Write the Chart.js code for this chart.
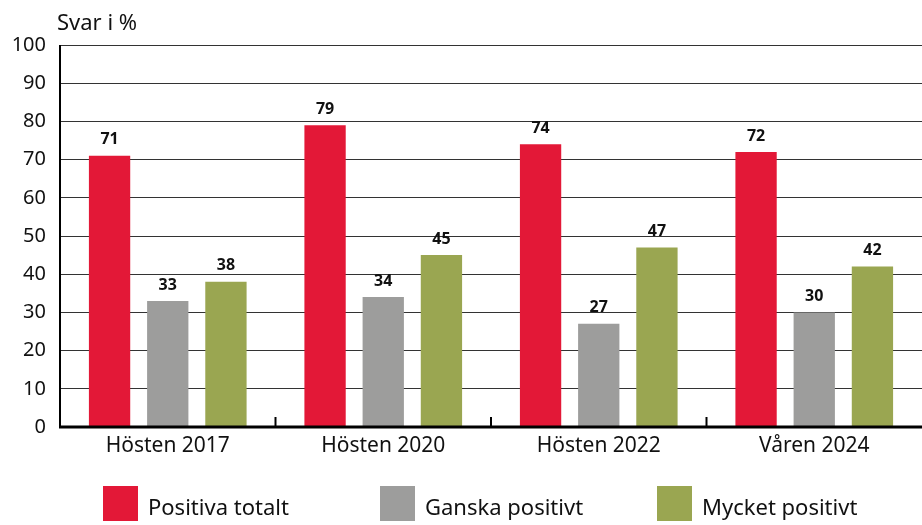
<!DOCTYPE html>
<html>
<head>
<meta charset="utf-8">
<script src="https://cdn.jsdelivr.net/npm/chart.js@4/dist/chart.umd.min.js"></script>
<style>
  html, body { margin: 0; padding: 0; background: #fff; }
  #wrap { width: 922px; height: 525px; position: relative; }
</style>
</head>
<body>
<div id="wrap"><canvas id="chart"></canvas></div>
<script>
// Data
const categories = ['Hösten 2017', 'Hösten 2020', 'Hösten 2022', 'Våren 2024'];
const positivaTotalt = [71, 79, 74, 72];
const ganskaPositivt = [33, 34, 27, 30];
const mycketPositivt = [38, 45, 47, 42];
const seriesNames = ['Positiva totalt', 'Ganska positivt', 'Mycket positivt'];
const yTicks = [0, 10, 20, 30, 40, 50, 60, 70, 80, 90, 100];

const FONT = "'Noto Sans', sans-serif";
const COLORS = ['#E31837', '#9D9D9C', '#9AA651'];

// Labels above bars, unit label, inner ticks and the legend
const extrasPlugin = {
    id: 'extras',
    afterDatasetsDraw(chart) {
        const ctx = chart.ctx;
        ctx.save();
        ctx.fillStyle = '#111';
        ctx.font = 'bold 16px ' + FONT;
        ctx.textAlign = 'center';
        ctx.textBaseline = 'bottom';
        chart.data.datasets.forEach((ds, i) => {
            chart.getDatasetMeta(i).data.forEach((bar, j) => {
                ctx.fillText(ds.data[j], bar.x, bar.y - 8);
            });
        });

        // small upward ticks between the groups
        const x = chart.scales.x;
        const bottom = chart.chartArea.bottom;
        ctx.strokeStyle = '#000';
        ctx.lineWidth = 2;
        for (let k = 1; k < categories.length; k++) {
            const px = (x.getPixelForValue(k - 1) + x.getPixelForValue(k)) / 2;
            ctx.beginPath();
            ctx.moveTo(px, bottom);
            ctx.lineTo(px, bottom - 10);
            ctx.stroke();
        }

        // y axis and x axis lines
        ctx.beginPath();
        ctx.lineWidth = 2;
        ctx.moveTo(chart.chartArea.left, chart.chartArea.top);
        ctx.lineTo(chart.chartArea.left, bottom);
        ctx.stroke();
        ctx.beginPath();
        ctx.lineWidth = 3;
        ctx.moveTo(chart.chartArea.left - 1, bottom);
        ctx.lineTo(chart.chartArea.right, bottom);
        ctx.stroke();

        // unit label
        ctx.fillStyle = '#111';
        ctx.font = '22px ' + FONT;
        ctx.textAlign = 'left';
        ctx.textBaseline = 'middle';
        ctx.fillText('Svar i %', 57, 24);

        // legend
        const legendX = [103, 380, 657];
        ctx.font = '22px ' + FONT;
        chart.data.datasets.forEach((ds, i) => {
            ctx.fillStyle = ds.backgroundColor;
            ctx.fillRect(legendX[i], 486, 35, 35);
            ctx.fillStyle = '#111';
            ctx.fillText(ds.label, legendX[i] + 45, 509);
        });
        ctx.restore();
    }
};

new Chart(document.getElementById('chart'), {
    type: 'bar',
    data: {
        labels: categories,
        datasets: [
            { label: seriesNames[0], data: positivaTotalt, backgroundColor: COLORS[0] },
            { label: seriesNames[1], data: ganskaPositivt, backgroundColor: COLORS[1] },
            { label: seriesNames[2], data: mycketPositivt, backgroundColor: COLORS[2] }
        ]
    },
    options: {
        responsive: true,
        maintainAspectRatio: false,
        animation: false,
        layout: { padding: { top: 45, right: 0, left: 0, bottom: 0 } },
        datasets: {
            bar: { barPercentage: 0.71, categoryPercentage: 0.81 }
        },
        plugins: {
            legend: { display: false },
            tooltip: { enabled: false }
        },
        scales: {
            x: {
                grid: { display: false, drawTicks: false },
                border: { display: false },
                ticks: {
                    color: '#111',
                    font: { family: FONT, size: 21 },
                    padding: 6
                },
                afterFit(scale) { scale.height = 98; }
            },
            y: {
                min: 0,
                max: 100,
                afterBuildTicks(scale) { scale.ticks = yTicks.map(v => ({ value: v })); },
                grid: { color: '#333', lineWidth: 1, drawTicks: false },
                border: { display: false },
                ticks: {
                    color: '#111',
                    font: { family: FONT, size: 20 },
                    padding: 14
                },
                afterFit(scale) { scale.width = 60; }
            }
        }
    },
    plugins: [extrasPlugin]
});
</script>
</body>
</html>
